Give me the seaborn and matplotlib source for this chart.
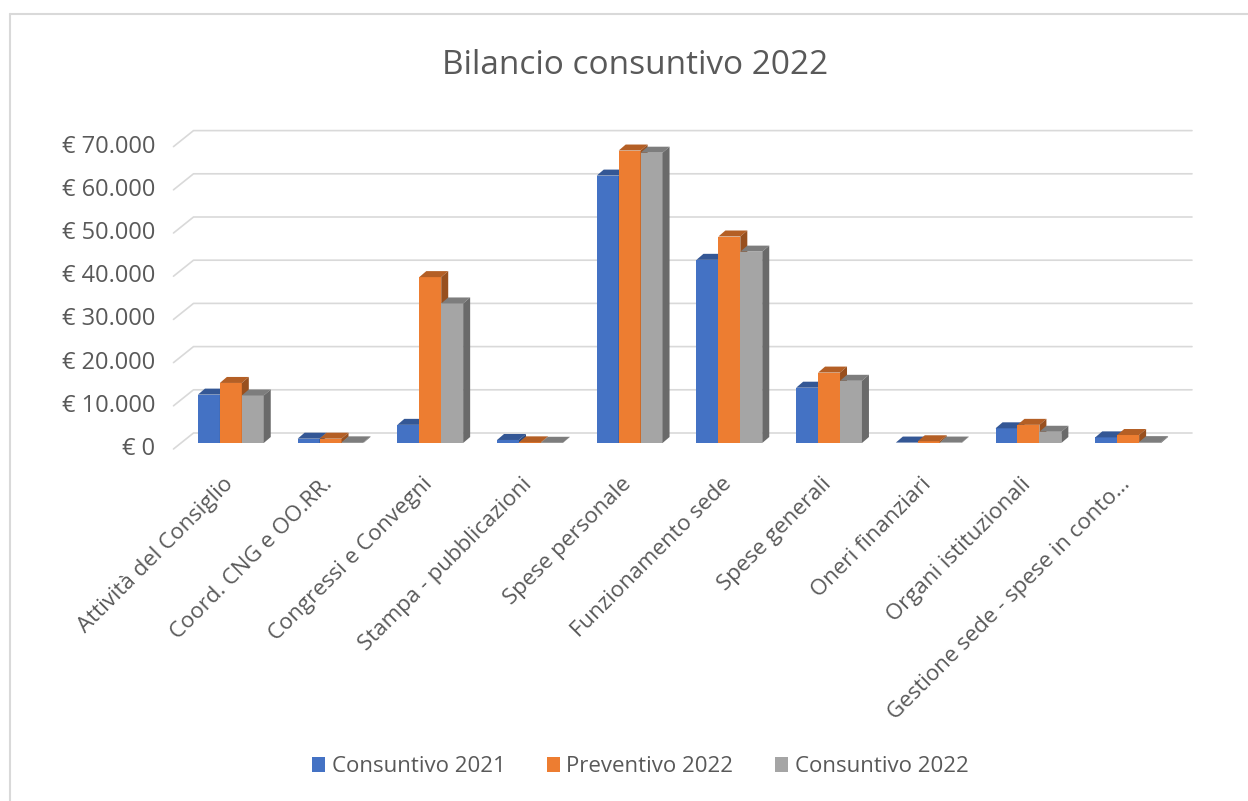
import numpy as np
import pandas as pd
import seaborn as sns
import matplotlib.pyplot as plt
import matplotlib.transforms as mtransforms
from matplotlib.patches import Polygon, Patch
from matplotlib.lines import Line2D

voci = ["Attività del Consiglio", "Coord. CNG e OO.RR.", "Congressi e Convegni",
        "Stampa - pubblicazioni", "Spese personale", "Funzionamento sede",
        "Spese generali", "Oneri finanziari", "Organi istituzionali",
        "Gestione sede - spese in conto…"]
serie = ["Consuntivo 2021", "Preventivo 2022", "Consuntivo 2022"]
consuntivo_2021 = [11200, 1000, 4200, 700, 61900, 42400, 12800, 100, 3400, 1300]
preventivo_2022 = [13900, 1000, 38400, 150, 67700, 47800, 16300, 400, 4200, 1850]
consuntivo_2022 = [11000, 150, 32300, 50, 67200, 44300, 14400, 100, 2600, 200]
colori = ["#4472c4", "#ed7d31", "#a5a5a5"]
yticks = list(range(0, 70001, 10000))

df = pd.DataFrame({
    "voce": voci * 3,
    "serie": np.repeat(serie, len(voci)),
    "importo": consuntivo_2021 + preventivo_2022 + consuntivo_2022,
})

sns.set_theme(style="white")
plt.rcParams['font.family'] = ['Open Sans', 'DejaVu Sans']
testo = "#595959"
griglia = "#d9d9d9"

fig = plt.figure(figsize=(12.48, 8.01), dpi=100)
ax = fig.add_axes([181/1248, (801-443)/801, 997/1248, (443-140.6)/801])
sns.barplot(data=df, x="voce", y="importo", hue="serie", palette=colori,
            width=0.66, saturation=1, linewidth=0, ax=ax, legend=False)
ax.set_xlim(-0.5, 9.5)
ax.set_ylim(0, 70000)
for s in ax.spines.values():
    s.set_visible(False)
ax.set_xlabel("")
ax.set_ylabel("")
ax.set_xticks([])
ax.set_yticks([])
ax.grid(False)

# pixel -> data conversion
p0 = ax.transData.transform((0, 0))
p1 = ax.transData.transform((1, 10000))
pxx = p1[0] - p0[0]
pxy = (p1[1] - p0[1]) / 10000

# 3d look: front edge, back wall
fdx, fdy = -7.5 / pxx, -6 / pxy
bdx, bdy = 12.5 / pxx, 10 / pxy
xr = 9.5 + 14 / pxx
for v in yticks:
    ax.add_line(Line2D([-0.5 + fdx, -0.5 + bdx, xr], [v + fdy, v + bdy, v + bdy],
                       color=griglia, lw=1.2, zorder=1, clip_on=False))

# bar tops and sides
ddx, ddy = 7 / pxx, 6 / pxy
n = len(voci)
for k, p in enumerate(list(ax.patches)):
    hi = k // n
    z = 3 + 0.01 * hi
    p.set_zorder(z)
    x0, w, h = p.get_x(), p.get_width(), p.get_height()
    c = np.array(p.get_facecolor()[:3])
    top = Polygon([(x0, h), (x0 + w, h), (x0 + w + ddx, h + ddy), (x0 + ddx, h + ddy)],
                  closed=True, facecolor=c * 0.76, edgecolor="none", zorder=z + 0.005, clip_on=False)
    side = Polygon([(x0 + w, 0), (x0 + w, h), (x0 + w + ddx, h + ddy), (x0 + w + ddx, ddy)],
                   closed=True, facecolor=c * 0.64, edgecolor="none", zorder=z + 0.005, clip_on=False)
    ax.add_patch(top)
    ax.add_patch(side)

# tick labels
ytr = mtransforms.offset_copy(ax.transData, fig=fig, x=-26, y=-6, units='dots')
for v in yticks:
    lab = "€ " + f"{v:,}".replace(",", ".")
    ax.text(-0.5, v, lab, transform=ytr, ha='right', va='center',
            fontsize=17, color=testo)

xtr = mtransforms.offset_copy(ax.transData, fig=fig, x=-1, y=-38, units='dots')
for i, lab in enumerate(voci):
    ax.text(i, 0, lab, transform=xtr, rotation=45, ha='right', va='center',
            rotation_mode='anchor', fontsize=16, color=testo)

fig.text(635/1248, 1 - 66/801, "Bilancio consuntivo 2022", ha='center', va='center',
         fontsize=24, color=testo)

handles = [Patch(facecolor=c, edgecolor='none', label=s) for c, s in zip(colori, serie)]
leg = fig.legend(handles=handles, loc='center', bbox_to_anchor=(640/1248, 1 - 767/801),
                 ncol=3, frameon=False, fontsize=16, handlelength=0.62, handleheight=0.62,
                 handletextpad=0.28, columnspacing=1.85)
for t in leg.get_texts():
    t.set_color(testo)

# chart border (top and left visible)
fig.add_artist(Line2D([10/1248, 1], [1 - 14/801, 1 - 14/801], transform=fig.transFigure,
                      color=griglia, lw=1.5))
fig.add_artist(Line2D([10/1248, 10/1248], [0, 1 - 14/801], transform=fig.transFigure,
                      color=griglia, lw=1.5))

fig.savefig("out.png", dpi=100)
